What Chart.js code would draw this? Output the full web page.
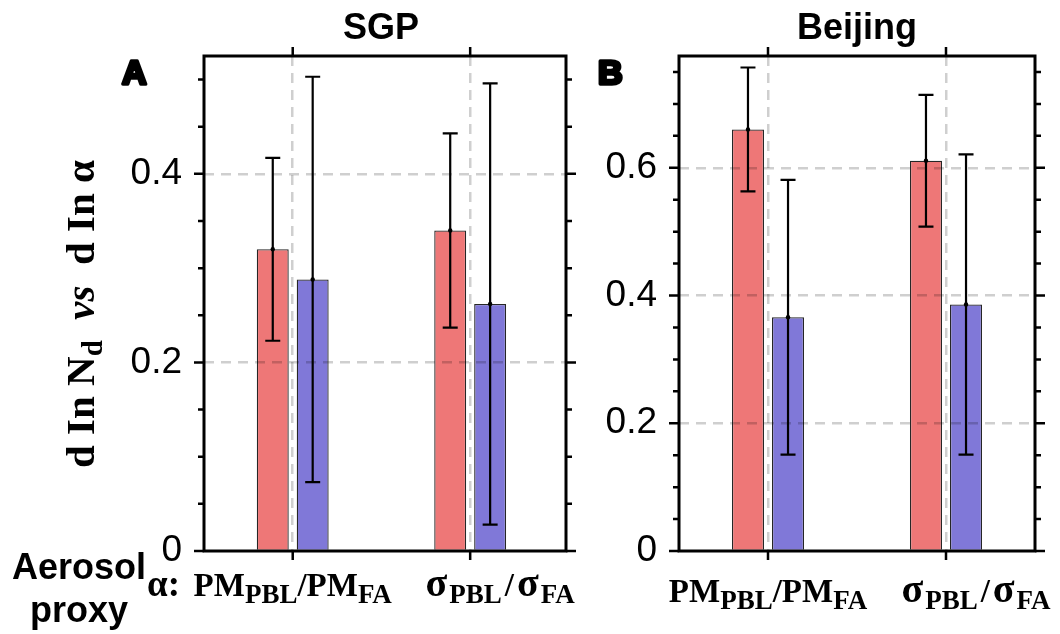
<!DOCTYPE html>
<html>
<head>
<meta charset="utf-8">
<script src="https://cdn.jsdelivr.net/npm/chart.js@4.4.0/dist/chart.umd.min.js"></script>
<style>
body { margin: 0; background: #fff; width: 1060px; height: 634px; overflow: hidden; position: relative; }
#wrapA { position: absolute; left: 0; top: 0; width: 590px; height: 634px; }
#wrapB { position: absolute; left: 590px; top: 0; width: 470px; height: 634px; }
</style>
</head>
<body>
<div id="wrapA"><canvas id="chartA"></canvas></div>
<div id="wrapB"><canvas id="chartB"></canvas></div>
<script>
// aerosol proxies on the x axis: [text, isSubscript, extra gap after]
const proxyLabels = [
    [['PM', 0, 0], ['PBL', 1, 0], ['/PM', 0, 0], ['FA', 1, 0]],
    [['σ', 0, 2], ['PBL', 1, 3], ['/', 0, 3], ['σ', 0, 2], ['FA', 1, 0]]
];
// the sigma label sits a little right of its tick in the original
const proxyLabelShift = [0, 30];

// SGP panel
const sgpRed = [0.320, 0.340];
const sgpRedErr = [0.097, 0.103];
const sgpBlue = [0.288, 0.262];
const sgpBlueErr = [0.215, 0.234];
const sgpYMax = 0.525;

// Beijing panel
const bjRed = [0.660, 0.611];
const bjRedErr = [0.097, 0.103];
const bjBlue = [0.366, 0.386];
const bjBlueErr = [0.215, 0.235];
const bjYMax = 0.775;

const redColor = '#EE7777';
const blueColor = '#8078D8';
const gridColor = 'rgba(0,0,0,0.19)';

function isMajor(v) {
    const r = v / 0.2;
    return Math.abs(r - Math.round(r)) < 1e-6;
}

function drawRich(ctx, parts, x, y, align) {
    let total = 0;
    parts.forEach(p => {
        ctx.font = p.font;
        p.w = ctx.measureText(p.text).width + (p.gap || 0);
        total += p.w;
    });
    let cx = align === 'center' ? x - total / 2 : x;
    ctx.textAlign = 'left';
    ctx.textBaseline = 'alphabetic';
    parts.forEach(p => {
        ctx.font = p.font;
        ctx.fillText(p.text, cx, y + (p.dy || 0));
        cx += p.w;
    });
}

const serif = '"Liberation Serif", "DejaVu Serif", serif';
const sans = '"Liberation Sans", Arial, sans-serif';

const framePlugin = {
    id: 'frame',
    afterDraw(chart) {
        const ctx = chart.ctx;
        const area = chart.chartArea;
        const xs = chart.scales.x;
        const ys = chart.scales.y;
        const o = chart.options.plugins.frame;

        ctx.save();
        ctx.strokeStyle = '#000';
        ctx.fillStyle = '#000';

        // error bars
        ctx.lineWidth = 2.2;
        chart.data.datasets.forEach((ds, di) => {
            const meta = chart.getDatasetMeta(di);
            meta.data.forEach((bar, i) => {
                const v = ds.data[i].y;
                const e = ds.err[i];
                const yt = ys.getPixelForValue(v + e);
                const yb = ys.getPixelForValue(v - e);
                ctx.beginPath();
                ctx.moveTo(bar.x, yt); ctx.lineTo(bar.x, yb);
                ctx.moveTo(bar.x - 7.5, yt); ctx.lineTo(bar.x + 7.5, yt);
                ctx.moveTo(bar.x - 7.5, yb); ctx.lineTo(bar.x + 7.5, yb);
                ctx.stroke();
                ctx.beginPath();
                ctx.arc(bar.x, bar.y, 2.2, 0, Math.PI * 2);
                ctx.fill();
            });
        });

        // box
        ctx.lineWidth = 3;
        ctx.strokeRect(area.left, area.top, area.right - area.left, area.bottom - area.top);

        // outward tick marks
        ctx.lineWidth = 2.5;
        ctx.beginPath();
        ys.ticks.forEach(t => {
            const py = ys.getPixelForValue(t.value);
            const len = isMajor(t.value) ? 10 : 6;
            ctx.moveTo(area.left - len, py); ctx.lineTo(area.left, py);
            ctx.moveTo(area.right, py); ctx.lineTo(area.right + len, py);
        });
        xs.ticks.forEach(t => {
            const px = xs.getPixelForValue(t.value);
            ctx.moveTo(px, area.bottom); ctx.lineTo(px, area.bottom + 9);
            ctx.moveTo(px, area.top - 9); ctx.lineTo(px, area.top);
        });
        ctx.stroke();

        // title and panel letter
        ctx.font = 'bold 36px ' + sans;
        ctx.textAlign = 'center';
        ctx.textBaseline = 'alphabetic';
        ctx.fillText(o.title, (area.left + area.right) / 2 + o.titleDx, 39);
        ctx.textAlign = 'left';
        ctx.font = 'bold 34px ' + sans;
        ctx.lineWidth = 3.5;
        ctx.lineJoin = 'round';
        ctx.strokeText(o.letter, o.letterX, 84);
        ctx.fillText(o.letter, o.letterX, 84);

        // category labels
        proxyLabels.forEach((lab, i) => {
            const px = xs.getPixelForValue(i + 1) + proxyLabelShift[i];
            const parts = lab.map(([t, sub, gap]) => ({
                text: t,
                font: 'bold ' + (sub ? 27 : (t === 'σ' ? 40 : 33)) + 'px ' + serif,
                dy: sub ? 7 : 0,
                gap: gap
            }));
            drawRich(ctx, parts, px, o.labelY, 'center');
        });

        if (o.leftTexts) {
            ctx.font = 'bold 36px ' + sans;
            ctx.textAlign = 'center';
            ctx.fillText('Aerosol', 79, 579);
            ctx.fillText('proxy', 79, 622);
            ctx.textAlign = 'left';
            ctx.font = 'bold 37px ' + serif;
            ctx.fillText('α:', 147, 596);

            ctx.save();
            ctx.translate(94, 314);
            ctx.rotate(-Math.PI / 2);
            drawRich(ctx, [
                { text: 'd In N', font: 'bold 41px ' + serif },
                { text: 'd', font: 'bold 29px ' + serif, dy: 8 },
                { text: '  ', font: 'bold 41px ' + serif },
                { text: 'vs', font: 'italic bold 41px ' + serif },
                { text: '  d In α', font: 'bold 41px ' + serif }
            ], 0, 0, 'center');
            ctx.restore();
        }
        ctx.restore();
    }
};

function makeChart(id, red, redErr, blue, blueErr, yMax, xMax, yWidth, pad, frame) {
    const ctx = document.getElementById(id).getContext('2d');
    return new Chart(ctx, {
        type: 'bar',
        data: {
            datasets: [
                {
                    data: red.map((v, i) => ({ x: i + 1, y: v })),
                    err: redErr,
                    backgroundColor: redColor,
                    borderColor: '#262626',
                    borderWidth: 1.3,
                    categoryPercentage: 0.45,
                    barPercentage: 0.8
                },
                {
                    data: blue.map((v, i) => ({ x: i + 1, y: v })),
                    err: blueErr,
                    backgroundColor: blueColor,
                    borderColor: '#262626',
                    borderWidth: 1.3,
                    categoryPercentage: 0.45,
                    barPercentage: 0.8
                }
            ]
        },
        options: {
            responsive: true,
            maintainAspectRatio: false,
            animation: false,
            layout: { padding: pad },
            plugins: {
                legend: { display: false },
                tooltip: { enabled: false },
                frame: frame
            },
            scales: {
                x: {
                    type: 'linear',
                    min: 0.5,
                    max: xMax,
                    offset: false,
                    afterBuildTicks: s => { s.ticks = proxyLabels.map((l, i) => ({ value: i + 1 })); },
                    afterFit: s => { s.height = 0; },
                    ticks: { display: false },
                    grid: { offset: false, color: gridColor, lineWidth: 2.5, drawTicks: false, z: 1 },
                    border: { display: false, dash: [10, 7] }
                },
                y: {
                    min: 0,
                    max: yMax,
                    afterFit: s => { s.width = yWidth; },
                    ticks: {
                        stepSize: 0.05,
                        includeBounds: false,
                        autoSkip: false,
                        padding: 22,
                        color: '#000',
                        font: { family: sans, size: 37 },
                        callback: v => isMajor(v) ? String(+v.toFixed(2)) : ''
                    },
                    grid: {
                        drawTicks: false,
                        lineWidth: 2.5,
                        z: 1,
                        color: c => (isMajor(c.tick.value) && c.tick.value > 0) ? gridColor : 'rgba(0,0,0,0)'
                    },
                    border: { display: false, dash: [10, 7] }
                }
            }
        },
        plugins: [framePlugin]
    });
}

makeChart('chartA', sgpRed, sgpRedErr, sgpBlue, sgpBlueErr, sgpYMax, 2.54, 204,
    { left: 0, right: 24, top: 56, bottom: 83 },
    { title: 'SGP', titleDx: -4, letter: 'A', letterX: 122, labelY: 596, leftTexts: true });

makeChart('chartB', bjRed, bjRedErr, bjBlue, bjBlueErr, bjYMax, 2.5, 89,
    { left: 0, right: 25, top: 56, bottom: 83 },
    { title: 'Beijing', titleDx: 0, letter: 'B', letterX: 8, labelY: 602, leftTexts: false });
</script>
</body>
</html>
